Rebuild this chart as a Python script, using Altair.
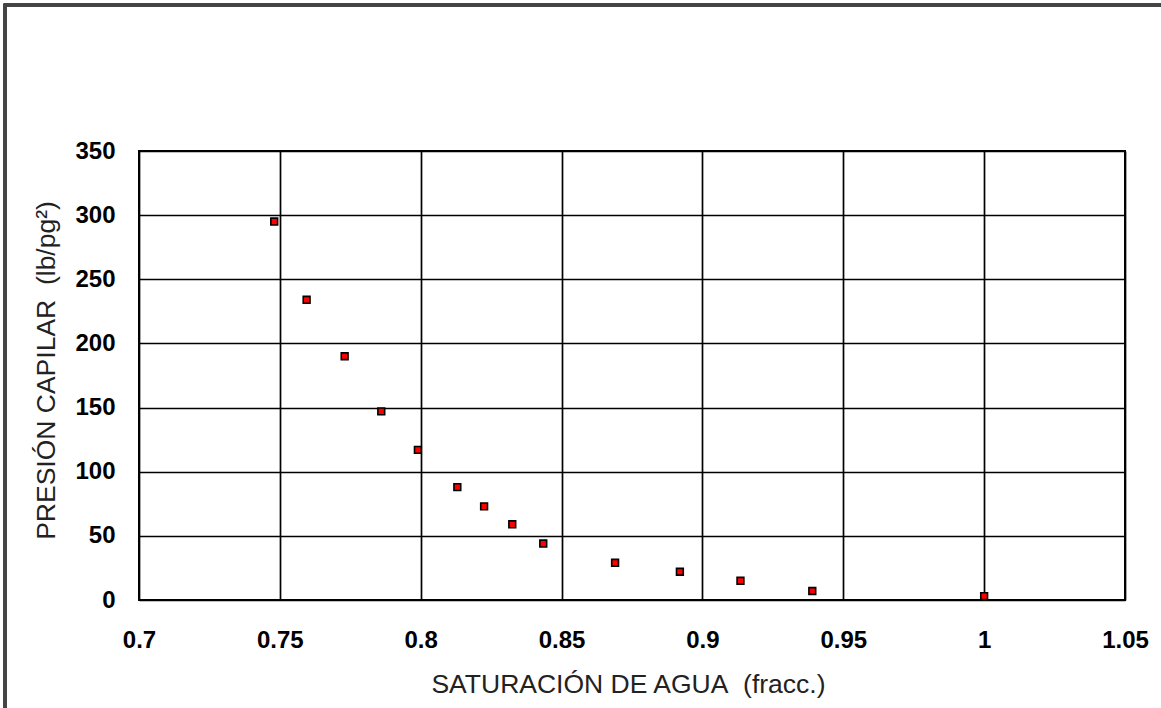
import altair as alt
import pandas as pd

# Data
saturacion = [0.748, 0.7595, 0.773, 0.786, 0.799, 0.813, 0.8225, 0.8325, 0.8435,
              0.869, 0.892, 0.9135, 0.939, 1.0]
presion = [295, 234, 190, 147, 117, 88, 73, 59, 44, 29, 22, 15, 7, 3]

x_ticks = [0.7, 0.75, 0.8, 0.85, 0.9, 0.95, 1.0, 1.05]
y_ticks = [0, 50, 100, 150, 200, 250, 300, 350]

df = pd.DataFrame({"sw": saturacion, "pc": presion})

W, H = 986, 449
PAD_L, PAD_T = 139, 151

points = alt.Chart(df).mark_square(
    size=46, color="#ff0000", stroke="black", strokeWidth=1.6, opacity=1
).encode(
    x=alt.X(
        "sw:Q",
        scale=alt.Scale(domain=[0.7, 1.05], nice=False, zero=False),
        axis=alt.Axis(
            values=x_ticks, format=".2~f",
            title="SATURACIÓN DE AGUA\u00a0\u00a0(fracc.)",
            grid=True, gridColor="black", gridWidth=1.7, gridOpacity=1,
            ticks=False, domain=False, labelFlush=False,
            labelFont="Liberation Sans", labelFontWeight="bold", labelFontSize=24,
            labelColor="black", labelPadding=28,
            titleFont="Liberation Sans", titleFontWeight="normal", titleFontSize=26.5,
            titleColor="#222222", titleX=489, titleY=84, titleBaseline="middle",
            titleAlign="center",
        ),
    ),
    y=alt.Y(
        "pc:Q",
        scale=alt.Scale(domain=[0, 350], nice=False),
        axis=alt.Axis(
            values=y_ticks, title="PRESIÓN CAPILAR\u00a0\u00a0(lb/pg²)",
            grid=True, gridColor="black", gridWidth=1.7, gridOpacity=1,
            ticks=False, domain=False, labelFlush=False,
            labelFont="Liberation Sans", labelFontWeight="bold", labelFontSize=24,
            labelColor="black", labelPadding=24,
            titleFont="Liberation Sans", titleFontWeight="normal", titleFontSize=26.5,
            titleColor="#222222", titleX=-93, titleY=219, titleAngle=-90,
            titleBaseline="middle", titleAlign="center",
        ),
    ),
)

frame = alt.Chart(df).mark_rect(
    fill=None, stroke="#444444", strokeWidth=2.5
).encode(
    x=alt.value(5 - PAD_L), x2=alt.value(1161 - PAD_L + 20),
    y=alt.value(5 - PAD_T), y2=alt.value(708 - PAD_T + 20),
)

chart = alt.layer(frame, points).properties(
    width=W, height=H,
    autosize=alt.AutoSizeParams(type="none"),
    padding={"left": PAD_L, "top": PAD_T, "right": 1161 - PAD_L - W, "bottom": 708 - PAD_T - H},
    background="white",
).configure_view(
    stroke="black", strokeWidth=2
)

chart.save("out.html", embed_options={"renderer": "svg", "actions": False})
